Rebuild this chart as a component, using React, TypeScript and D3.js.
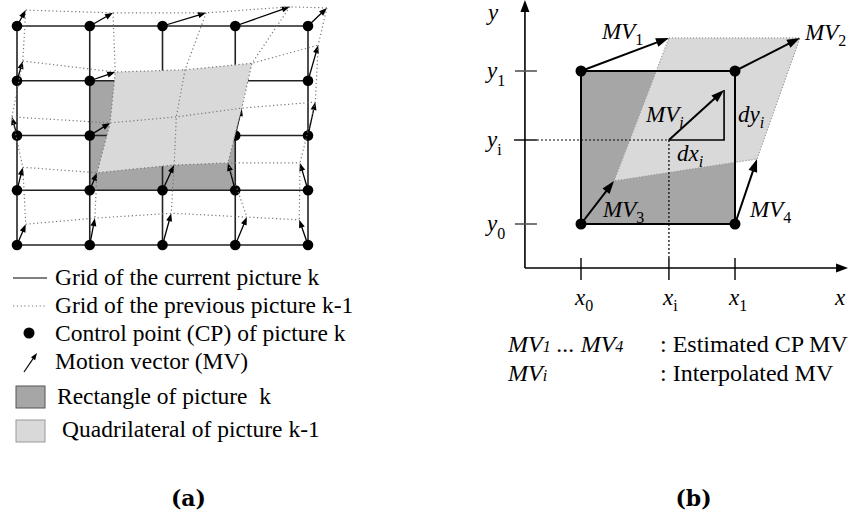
import React from "react";
import * as d3 from "d3";

// ---------- Panel (a) data: grid of control points and previous-picture positions ----------
const gridCols = [0, 1, 2, 3, 4];
const gridRows = [0, 1, 2, 3, 4];
// previous-picture positions (grid units) of each control point, rows top->bottom
const prevU = [
  [0.12, 1.32, 2.6, 3.75, 4.26],
  [0.08, 1.35, 2.31, 3.23, 4.14],
  [-0.07, 1.28, 2.19, 3.09, 4.1],
  [0.08, 1.1, 2.16, 2.9, 3.89],
  [0.12, 1.07, 2.12, 3.16, 3.88],
];
const prevV = [
  [-0.29, -0.24, -0.24, -0.35, -0.33],
  [0.64, 0.84, 0.8, 0.68, 0.35],
  [1.66, 1.77, 1.66, 1.5, 1.39],
  [2.58, 2.68, 2.54, 2.5, 2.5],
  [3.62, 3.51, 3.42, 3.49, 3.54],
];
const rectColRange = [1, 3];
const rectRowRange = [1, 3];
// boundary of quadrilateral as [row, col]
const quadBoundary = [
  [1, 1], [1, 2], [1, 3], [2, 3], [3, 3], [3, 2], [3, 1], [2, 1],
];
const legendLabels = [
  "Grid of the current picture k",
  "Grid of the previous picture k-1",
  "Control point (CP) of picture k",
  "Motion vector (MV)",
  "Rectangle of picture  k",
  "Quadrilateral of picture k-1",
];

// ---------- Panel (b) data ----------
const corners = [
  [0, 1],
  [1, 1],
  [0, 0],
  [1, 0],
];
const cornerTips = [
  [0.571, 1.216],
  [1.422, 1.216],
  [0.214, 0.281],
  [1.143, 0.425],
];
const cornerLabels = ["1", "2", "3", "4"];
const interpPoint = [0.571, 0.549];
const interpTip = [0.929, 0.876];
const axisMin = [-0.364, -0.288];
const axisMax = [1.734, 1.464];
const noteLabels = [": Estimated CP MV", ": Interpolated MV"];

const DARK = "#a6a6a6";
const LIGHT = "#d9d9d9";
const SERIF = "'Liberation Serif', 'Times New Roman', serif";

function Arrow({ x1, y1, x2, y2, head = 8, w = 6, sw = 1.3, color = "#000" }: any) {
  const a = Math.atan2(y2 - y1, x2 - x1);
  const c = Math.cos(a), s = Math.sin(a);
  const bx = x2 - head * c, by = y2 - head * s;
  const px = (-s * w) / 2, py = (c * w) / 2;
  return (
    <g>
      <line x1={x1} y1={y1} x2={bx + c} y2={by + s} stroke={color} strokeWidth={sw} />
      <polygon points={`${x2},${y2} ${bx + px},${by + py} ${bx - px},${by - py}`} fill={color} />
    </g>
  );
}

export default function App() {
  // panel a scales
  const xa = d3.scaleLinear().domain([0, 4]).range([17, 308]);
  const ya = d3.scaleLinear().domain([0, 4]).range([26, 245]);
  // panel b scales
  const xb = d3.scaleLinear().domain([0, 1]).range([581, 735]);
  const yb = d3.scaleLinear().domain([0, 1]).range([224, 71]);

  const dotted = "1.2,2.6";
  const line = d3.line<number[]>().x((d) => d[0]).y((d) => d[1]);

  const quadA = quadBoundary.map(([r, c]) => [xa(prevU[r][c]), ya(prevV[r][c])]);
  const quadB = [cornerTips[0], cornerTips[1], cornerTips[3], cornerTips[2]].map((p) => [xb(p[0]), yb(p[1])]);

  const legendY = [285, 313, 341, 369, 404, 437];
  const legendSym = [278, 306, 333, 362, 397, 431];

  const sub = 16;
  const Lbl = ({ x, y, main, s, subItalic = true, mainItalic = true, dy = 6, fs = 23 }: any) => (
    <text x={x} y={y} fontFamily={SERIF} fontSize={fs} fontStyle={mainItalic ? "italic" : "normal"}>
      {main}
      <tspan fontSize={sub} dy={dy} fontStyle={subItalic ? "italic" : "normal"}>
        {s}
      </tspan>
    </text>
  );

  return (
    <svg width={850} height={514} style={{ position: "absolute", left: 0, top: 0, background: "#fff" }}>
      <rect width={850} height={514} fill="#fff" />
      {/* ================= Panel (a) ================= */}
      <rect
        x={xa(rectColRange[0])}
        y={ya(rectRowRange[0])}
        width={xa(rectColRange[1]) - xa(rectColRange[0])}
        height={ya(rectRowRange[1]) - ya(rectRowRange[0])}
        fill={DARK}
      />
      {gridRows.map((r) => (
        <line key={"h" + r} x1={xa(0)} x2={xa(4)} y1={ya(r)} y2={ya(r)} stroke="#222" strokeWidth={1.6} />
      ))}
      {gridCols.map((c) => (
        <line key={"v" + c} x1={xa(c)} x2={xa(c)} y1={ya(0)} y2={ya(4)} stroke="#222" strokeWidth={1.6} />
      ))}
      {gridRows.map((r) =>
        gridCols.map((c) => <circle key={`d${r}${c}`} cx={xa(c)} cy={ya(r)} r={5.3} fill="#000" />)
      )}
      {gridRows.map((r) =>
        gridCols.map((c) => (
          <Arrow key={`a${r}${c}`} x1={xa(c)} y1={ya(r)} x2={xa(prevU[r][c])} y2={ya(prevV[r][c])} />
        ))
      )}
      <path d={line(quadA as any) + "Z"} fill={LIGHT} />
      {gridRows.map((r) => (
        <path
          key={"pr" + r}
          d={line(gridCols.map((c) => [xa(prevU[r][c]), ya(prevV[r][c])])) as string}
          fill="none"
          stroke="#777"
          strokeWidth={1.2}
          strokeDasharray={dotted}
        />
      ))}
      {gridCols.map((c) => (
        <path
          key={"pc" + c}
          d={line(gridRows.map((r) => [xa(prevU[r][c]), ya(prevV[r][c])])) as string}
          fill="none"
          stroke="#777"
          strokeWidth={1.2}
          strokeDasharray={dotted}
        />
      ))}

      {/* legend (a) */}
      <line x1={13} x2={47} y1={legendSym[0]} y2={legendSym[0]} stroke="#000" strokeWidth={1.2} />
      <line x1={13} x2={47} y1={legendSym[1]} y2={legendSym[1]} stroke="#777" strokeWidth={1.2} strokeDasharray={dotted} />
      <circle cx={29} cy={legendSym[2]} r={5.5} fill="#000" />
      <Arrow x1={24} y1={legendSym[3] + 10} x2={37} y2={legendSym[3] - 9} head={7} w={5} sw={1.2} />
      <rect x={16} y={legendSym[4] - 11} width={29} height={22} fill={DARK} stroke="#555" strokeWidth={1} />
      <rect x={16} y={legendSym[5] - 11} width={29} height={22} fill={LIGHT} stroke="#999" strokeWidth={1} />
      {legendLabels.map((t, i) => (
        <text key={"l" + i} x={i === 5 ? 62 : i === 4 ? 57 : 55} y={legendY[i]} fontFamily={SERIF} fontSize={23.5} style={{ whiteSpace: "pre" }}>
          {t}
        </text>
      ))}

      {/* ================= Panel (b) ================= */}
      <rect x={xb(0)} y={yb(1)} width={xb(1) - xb(0)} height={yb(0) - yb(1)} fill={DARK} />
      <path d={line(quadB as any) + "Z"} fill={LIGHT} stroke="#999" strokeWidth={1.2} strokeDasharray="1.2,1.8" />
      <rect x={xb(0)} y={yb(1)} width={xb(1) - xb(0)} height={yb(0) - yb(1)} fill="none" stroke="#000" strokeWidth={2} />

      <Arrow x1={xb(axisMin[0])} y1={yb(axisMin[1])} x2={xb(axisMax[0])} y2={yb(axisMin[1])} head={12} w={9} sw={1.6} />
      <Arrow x1={xb(axisMin[0])} y1={yb(axisMin[1])} x2={xb(axisMin[0])} y2={yb(axisMax[1])} head={12} w={9} sw={1.6} />
      {[0, 1].map((v) => (
        <line key={"yt" + v} x1={xb(axisMin[0]) - 10} x2={xb(axisMin[0]) + 12} y1={yb(v)} y2={yb(v)} stroke="#555" strokeWidth={1.6} />
      ))}
      <line x1={xb(axisMin[0]) - 11} x2={xb(axisMin[0]) + 12} y1={yb(interpPoint[1])} y2={yb(interpPoint[1])} stroke="#000" strokeWidth={1.4} />
      {[0, interpPoint[0], 1].map((u, i) => (
        <line key={"xt" + i} x1={xb(u)} x2={xb(u)} y1={yb(axisMin[1]) - 10} y2={yb(axisMin[1]) + 12} stroke="#000" strokeWidth={1.4} />
      ))}
      <line x1={xb(axisMin[0]) + 12} x2={xb(interpPoint[0])} y1={yb(interpPoint[1])} y2={yb(interpPoint[1])} stroke="#000" strokeWidth={1.2} strokeDasharray="2,2" />
      <line x1={xb(interpPoint[0])} x2={xb(interpPoint[0])} y1={yb(interpPoint[1])} y2={yb(axisMin[1]) - 10} stroke="#000" strokeWidth={1.2} strokeDasharray="2,2" />
      <polyline
        points={`${xb(interpPoint[0])},${yb(interpPoint[1])} ${xb(interpTip[0])},${yb(interpPoint[1])} ${xb(interpTip[0])},${yb(interpTip[1])}`}
        fill="none"
        stroke="#000"
        strokeWidth={1.6}
      />
      <Arrow x1={xb(interpPoint[0])} y1={yb(interpPoint[1])} x2={xb(interpTip[0])} y2={yb(interpTip[1])} head={13} w={9} sw={2} />
      {corners.map((c, i) => (
        <Arrow key={"mv" + i} x1={xb(c[0])} y1={yb(c[1])} x2={xb(cornerTips[i][0])} y2={yb(cornerTips[i][1])} head={13} w={9} sw={2} />
      ))}
      {corners.map((c, i) => (
        <circle key={"cp" + i} cx={xb(c[0])} cy={yb(c[1])} r={5.5} fill="#000" />
      ))}

      {/* axis labels */}
      <text x={488} y={20} fontFamily={SERIF} fontSize={23} fontStyle="italic">y</text>
      <Lbl x={487} y={yb(1) + 7} main="y" s="1" subItalic={false} dy={8} />
      <Lbl x={487} y={yb(interpPoint[1]) + 7} main="y" s="i" subItalic={false} dy={8} />
      <Lbl x={487} y={yb(0) + 7} main="y" s="0" subItalic={false} dy={8} />
      <Lbl x={xb(0) - 6} y={305} main="x" s="0" subItalic={false} dy={6} />
      <Lbl x={xb(interpPoint[0]) - 6} y={305} main="x" s="i" subItalic={false} dy={6} />
      <Lbl x={xb(1) - 6} y={305} main="x" s="1" subItalic={false} dy={6} />
      <text x={835} y={305} fontFamily={SERIF} fontSize={23} fontStyle="italic">x</text>

      {/* MV labels */}
      <Lbl x={602} y={39} main="MV" s={cornerLabels[0]} subItalic={false} />
      <Lbl x={805} y={40} main="MV" s={cornerLabels[1]} subItalic={false} />
      <Lbl x={603} y={217} main="MV" s={cornerLabels[2]} subItalic={false} />
      <Lbl x={750} y={217} main="MV" s={cornerLabels[3]} subItalic={false} />
      <Lbl x={646} y={122} main="MV" s="i" />
      <Lbl x={738} y={122} main="dy" s="i" />
      <Lbl x={677} y={161} main="dx" s="i" />

      {/* legend (b) */}
      <text x={508} y={352} fontFamily={SERIF} fontSize={24} fontStyle="italic" style={{ whiteSpace: "pre" }}>
        MV<tspan fontSize={16}>1</tspan>
        {" ... "}MV<tspan fontSize={16}>4</tspan>
      </text>
      <text x={660} y={352} fontFamily={SERIF} fontSize={24}>{noteLabels[0]}</text>
      <text x={508} y={381} fontFamily={SERIF} fontSize={24} fontStyle="italic">
        MV<tspan fontSize={16}>i</tspan>
      </text>
      <text x={660} y={381} fontFamily={SERIF} fontSize={24}>{noteLabels[1]}</text>

      {/* panel captions */}
      <text x={188.5} y={506} textAnchor="middle" fontFamily="'DejaVu Serif', serif" fontWeight="bold" fontSize={22}>(a)</text>
      <text x={693.5} y={506} textAnchor="middle" fontFamily="'DejaVu Serif', serif" fontWeight="bold" fontSize={22}>(b)</text>
    </svg>
  );
}
